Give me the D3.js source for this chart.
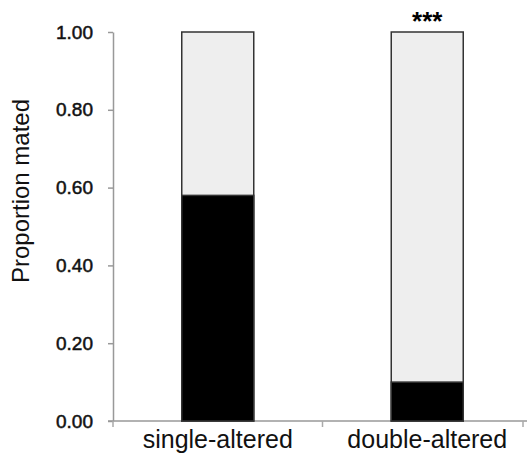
<!DOCTYPE html>
<html>
<head>
<meta charset="utf-8">
<script src="https://cdn.jsdelivr.net/npm/d3@7"></script>
<style>
  body { margin: 0; background: #fff; }
  text { font-family: Arial, "Liberation Sans", sans-serif; }
</style>
</head>
<body>
<div id="chart"></div>
<script>
// data
var categories = ["single-altered", "double-altered"];
var mated = [0.58, 0.10];
var yTicks = [0, 0.2, 0.4, 0.6, 0.8, 1.0];
var marks = ["", "***"];

var width = 527, height = 457;

var svg = d3.select("#chart").append("svg")
    .attr("width", width)
    .attr("height", height);

var y = d3.scaleLinear().domain([0, 1]).range([421, 32]);
var x = d3.scaleBand().domain(categories).range([113, 532]).paddingInner(0).paddingOuter(0);
var barW = 72;

// y axis
var yAxis = svg.append("g")
    .attr("transform", "translate(113,0)")
    .call(d3.axisLeft(y).tickValues(yTicks).tickFormat(d3.format(".2f")).tickSize(5).tickSizeOuter(0));
yAxis.select(".domain").attr("stroke", "#999").attr("stroke-width", 1.5);
yAxis.selectAll(".tick line").attr("stroke", "#999").attr("stroke-width", 1.5);
yAxis.selectAll(".tick text")
    .attr("x", -20)
    .attr("fill", "#111")
    .attr("stroke", "#111")
    .attr("stroke-width", 0.5)
    .style("font-size", "19px")
    .style("font-family", "Arial, 'Liberation Sans', sans-serif");

// x axis line and separators
svg.append("line")
    .attr("x1", 108).attr("x2", 527)
    .attr("y1", y(0)).attr("y2", y(0))
    .attr("stroke", "#999").attr("stroke-width", 1.5);

var seps = [x.range()[0], x(categories[1]), 523];
svg.selectAll(".sep").data(seps).enter().append("line")
    .attr("class", "sep")
    .attr("x1", function(d) { return d; }).attr("x2", function(d) { return d; })
    .attr("y1", y(0)).attr("y2", y(0) + 6)
    .attr("stroke", "#aaa").attr("stroke-width", 1.5);

// bars: light top (not mated) + black bottom (mated)
var bars = svg.selectAll(".bar").data(categories).enter().append("g").attr("class", "bar");

bars.append("rect")
    .attr("x", function(d) { return x(d) + x.bandwidth() / 2 - barW / 2; })
    .attr("y", y(1))
    .attr("width", barW)
    .attr("height", y(0) - y(1))
    .attr("fill", "#eeeeee")
    .attr("stroke", "#333")
    .attr("stroke-width", 1.5);

bars.append("rect")
    .attr("x", function(d) { return x(d) + x.bandwidth() / 2 - barW / 2; })
    .attr("y", function(d, i) { return y(mated[i]); })
    .attr("width", barW)
    .attr("height", function(d, i) { return y(0) - y(mated[i]); })
    .attr("fill", "#000")
    .attr("stroke", "#333")
    .attr("stroke-width", 1.5);

// category labels
svg.selectAll(".cat").data(categories).enter().append("text")
    .attr("class", "cat")
    .attr("x", function(d) { return x(d) + x.bandwidth() / 2; })
    .attr("y", 448)
    .attr("text-anchor", "middle")
    .attr("fill", "#111")
    .style("font-size", "25px")
    .text(function(d) { return d; });

// significance
svg.selectAll(".sig").data(categories).enter().append("text")
    .attr("class", "sig")
    .attr("x", function(d) { return x(d) + x.bandwidth() / 2; })
    .attr("y", 30)
    .attr("text-anchor", "middle")
    .style("font-size", "26px")
    .style("font-weight", "bold")
    .text(function(d, i) { return marks[i]; });

// y title
svg.append("text")
    .attr("transform", "translate(29,191) rotate(-90)")
    .attr("text-anchor", "middle")
    .attr("fill", "#111")
    .style("font-size", "24px")
    .text("Proportion mated");
</script>
</body>
</html>
